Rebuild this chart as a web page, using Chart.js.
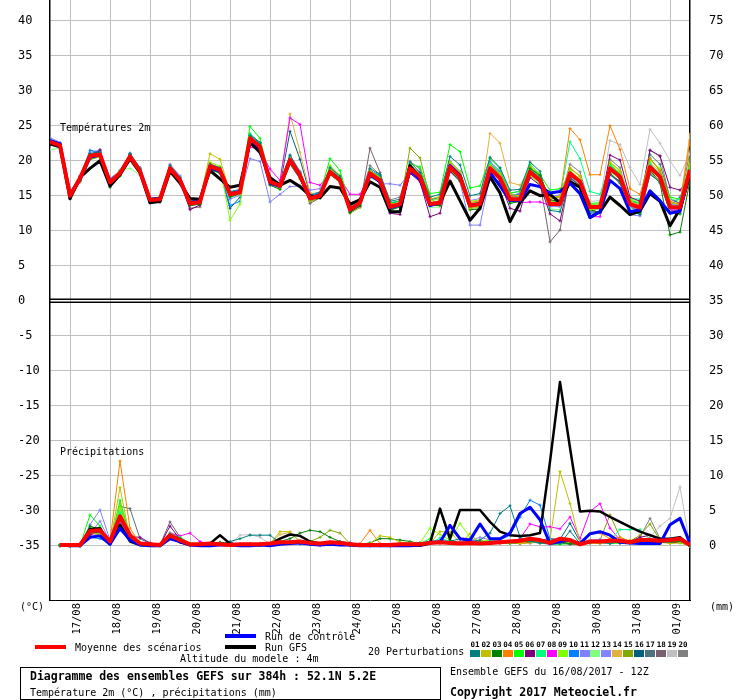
<!DOCTYPE html>
<html>
<head>
<meta charset="utf-8">
<script src="https://cdn.jsdelivr.net/npm/chart.js@4.4.0/dist/chart.umd.min.js"></script>
<style>
body { margin: 0; background: #fff; }
#wrap { position: relative; width: 740px; height: 700px; font-family: "DejaVu Sans Mono", monospace; color: #000; overflow: hidden; }
#wrap canvas { position: absolute; left: 0; top: -6px; }
.t { position: absolute; white-space: pre; font-size: 10px; line-height: 12px; }
.b { font-weight: bold; font-size: 11.5px; }
.sw { position: absolute; }
.num { position: absolute; font-size: 7.5px; font-weight: bold; line-height: 8px; width: 11px; text-align: center; }
#box { position: absolute; left: 20px; top: 667px; width: 419px; height: 31px; border: 1px solid #000; }
</style>
</head>
<body>
<div id="wrap">
  <canvas id="myChart" width="740" height="706"></canvas>
  <div class="t" style="left:60px;top:122px">Températures 2m</div>
  <div class="t" style="left:60px;top:446px">Précipitations</div>
  <div class="t" style="left:20px;top:601px">(°C)</div>
  <div class="t" style="left:710px;top:601px">(mm)</div>
  <div class="sw" style="left:35px;top:645px;width:31px;height:4px;background:#ff0000"></div>
  <div class="t" style="left:75px;top:642px">Moyenne des scénarios</div>
  <div class="sw" style="left:225px;top:634px;width:31px;height:4px;background:#0000ff"></div>
  <div class="t" style="left:265px;top:631px">Run de contrôle</div>
  <div class="sw" style="left:225px;top:645px;width:31px;height:4px;background:#000000"></div>
  <div class="t" style="left:265px;top:642px">Run GFS</div>
  <div class="t" style="left:180px;top:653px">Altitude du modele : 4m</div>
  <div class="t" style="left:368px;top:646px">20 Perturbations</div>
  <div id="swatches"></div>
  <div id="box"></div>
  <div class="t b" style="left:30px;top:670px">Diagramme des ensembles GEFS sur 384h : 52.1N 5.2E</div>
  <div class="t" style="left:30px;top:687px">Température 2m (°C) , précipitations (mm)</div>
  <div class="t" style="left:450px;top:666px">Ensemble GEFS du 16/08/2017 - 12Z</div>
  <div class="t b" style="left:450px;top:686px">Copyright 2017 Meteociel.fr</div>
</div>
<script>
// run starts 16/08 12Z, one value every 6h up to 384h
var dayLabels = ['17/08','18/08','19/08','20/08','21/08','22/08','23/08','24/08',
                 '25/08','26/08','27/08','28/08','29/08','30/08','31/08','01/09'];
var leftTicks = [40,35,30,25,20,15,10,5,0,-5,-10,-15,-20,-25,-30,-35];
var rightTicks = [75,70,65,60,55,50,45,40,35,30,25,20,15,10,5,0];
var pertNames = ['01','02','03','04','05','06','07','08','09','10','11','12','13','14','15','16','17','18','19','20'];
var pertColors = ['#008080','#c0c000','#008000','#ff8000','#00ff00','#800080','#00ff80','#ff00ff','#80ff00','#0080ff',
                  '#8080ff','#80ff80','#8484ff','#e0b040','#80a800','#006080','#507080','#786070','#c0c0c0','#808080'];

// temperature 2m (°C)
var tempMean = [22.7,22.2,15.0,17.5,20.7,20.9,16.9,18.2,20.6,18.5,
  14.4,14.5,18.9,17.2,13.9,14.1,19.2,18.7,15.2,15.5,
  23.2,22.0,17.0,16.4,20.1,17.9,14.6,15.0,18.4,17.2,
  13.0,14.0,18.2,17.2,13.4,13.8,18.9,17.7,13.8,14.0,
  19.1,17.7,13.6,13.8,18.9,17.5,14.5,14.5,18.4,17.2,
  13.8,13.8,18.2,17.0,13.4,13.4,18.9,17.7,13.8,13.3,19.1,17.7,13.4,13.3,18.7];
var tempCtrl = [22.9,22.4,15.2,17.3,20.5,20.8,17.0,18.2,20.6,18.6,
  14.5,14.6,18.9,17.3,14.0,14.3,19.0,18.5,15.3,15.6,
  23.0,21.8,16.8,16.3,20.0,17.8,14.6,15.1,18.4,17.3,
  13.0,14.0,18.0,17.0,13.3,13.7,18.6,17.3,13.6,14.0,
  19.3,17.9,13.6,13.9,18.3,16.4,14.3,14.3,16.6,16.3,
  15.4,15.6,16.8,15.3,11.9,12.7,17.2,16.0,12.7,13.0,15.7,14.3,12.5,12.8,18.6];
var tempGfs = [22.4,22.0,14.6,17.6,18.9,20.0,16.4,18.0,20.3,18.3,
  14.0,14.2,18.5,16.8,14.6,14.5,18.6,17.4,16.2,16.5,
  22.6,21.2,17.6,16.5,17.2,16.3,15.0,14.7,16.3,16.1,
  13.8,14.4,17.0,16.2,12.7,12.7,19.3,17.5,13.8,14.0,
  17.1,14.3,11.5,13.2,17.7,15.4,11.3,14.0,15.7,15.0,
  15.2,14.0,17.0,16.2,11.9,12.7,14.8,13.6,12.3,12.8,15.3,14.2,10.7,13.1,18.0];

var t01 = [22.9,22.3,15.2,17.8,21.0,21.2,17.1,18.4,21.0,18.8,
  14.6,14.8,19.3,17.6,14.2,14.5,19.5,19.0,15.6,15.9,
  23.6,22.5,17.5,16.8,20.8,18.3,15.0,15.3,19.0,17.8,
  13.4,14.5,18.9,18.0,14.2,14.5,19.8,18.3,14.8,15.2,
  20.6,19.4,15.0,15.3,20.5,19.0,15.8,15.9,19.8,18.5,
  12.9,12.7,17.3,16.2,12.5,12.6,18.0,16.8,12.9,12.3,18.1,16.9,12.6,12.4,17.8];
var t02 = [22.5,22.0,15.3,17.0,20.3,20.5,17.2,18.6,20.1,18.0,
  14.2,14.3,18.6,17.0,14.2,14.5,21.0,20.2,15.5,15.2,
  22.8,21.6,16.8,16.2,19.6,17.5,14.2,14.8,18.9,17.8,
  13.3,13.9,18.6,17.5,13.6,13.7,19.5,18.1,14.5,14.9,
  19.8,18.3,13.2,13.5,19.3,18.2,15.2,15.0,17.9,16.8,
  14.8,14.9,19.0,17.8,13.0,13.2,19.8,18.5,14.3,13.6,18.4,17.0,12.8,12.4,19.6];
var t03 = [22.6,22.4,14.8,17.2,20.2,20.6,16.2,17.9,20.3,18.3,
  14.3,14.4,18.5,16.9,13.6,13.8,18.8,18.2,14.8,15.3,
  22.6,21.5,16.5,15.9,19.5,17.4,14.2,14.7,18.0,17.0,
  12.6,13.6,17.8,16.9,12.9,13.4,18.4,17.4,13.6,13.6,
  18.6,17.1,13.0,13.1,18.2,16.8,13.9,14.2,18.9,17.9,
  14.4,14.2,17.6,16.4,13.0,12.6,18.2,17.0,12.8,12.6,18.4,16.8,9.4,9.8,17.2];
var t04 = [22.8,22.1,15.1,17.6,20.9,21.1,16.8,18.0,20.8,18.6,
  14.5,14.7,19.2,17.4,14.0,14.3,19.6,19.0,15.0,15.6,
  23.4,22.3,17.2,16.6,20.4,18.2,14.8,15.2,18.7,17.4,
  13.2,14.2,18.5,17.5,13.8,14.0,19.2,17.9,14.0,14.3,
  19.5,18.0,14.0,14.3,19.2,17.8,14.9,15.0,19.0,17.8,
  14.5,14.8,24.6,23.0,18.0,18.0,25.0,21.6,16.0,15.2,20.3,18.6,14.2,13.8,22.8];
var t05 = [22.4,22.0,15.1,17.3,20.4,20.7,16.6,17.8,20.0,18.4,
  14.6,14.8,19.1,17.5,14.1,14.4,19.0,18.4,15.0,15.8,
  24.9,23.2,17.4,16.3,19.8,17.6,14.3,15.3,20.3,18.6,
  13.6,14.3,18.4,17.8,14.0,14.2,19.6,19.1,15.3,15.5,
  22.3,21.3,16.1,16.4,20.3,18.9,15.4,15.6,19.5,18.0,
  15.8,16.0,18.0,17.2,13.9,14.0,19.6,18.1,14.4,13.9,20.4,18.5,14.8,14.5,19.4];
var t06 = [22.5,22.3,14.6,17.0,20.5,21.5,16.4,18.1,20.9,18.4,
  14.0,14.2,18.7,17.0,13.0,13.7,18.9,18.5,15.0,15.4,
  22.9,21.8,16.6,16.3,20.0,18.0,14.5,14.8,18.2,17.0,
  12.7,13.5,18.0,16.8,12.5,12.3,18.2,17.0,12.0,12.5,
  18.5,17.2,13.4,13.8,18.0,16.9,13.2,12.8,17.6,16.5,
  12.4,11.4,17.8,16.9,13.6,13.4,20.8,20.1,14.8,14.2,21.5,20.7,16.2,15.8,17.5];
var t07 = [22.7,22.2,15.0,17.6,20.6,20.8,17.0,18.3,20.5,18.7,
  14.3,14.6,19.0,17.3,13.8,14.1,19.3,18.5,15.1,15.6,
  23.9,22.4,17.3,16.6,20.3,18.1,14.6,15.1,18.8,17.5,
  13.2,14.1,18.3,17.3,13.5,13.9,19.1,17.9,13.7,13.9,
  19.4,18.0,13.9,14.0,19.6,18.3,14.7,14.9,18.8,17.7,
  14.5,14.8,22.7,20.3,15.6,15.2,19.3,18.2,14.6,14.5,19.6,18.0,13.5,13.6,18.8];
var t08 = [22.6,22.1,15.2,17.4,20.8,21.0,17.0,18.2,20.4,18.3,
  14.4,14.6,18.8,17.3,14.0,14.2,19.0,18.8,15.3,15.8,
  22.0,21.5,18.8,17.2,26.1,25.2,16.9,16.5,18.2,17.5,
  15.2,15.2,18.0,17.0,13.2,13.5,18.6,17.6,13.9,14.1,
  19.0,17.5,13.5,13.6,18.6,17.3,14.6,14.0,14.1,14.1,
  13.6,13.9,17.5,16.4,12.0,12.0,18.0,17.0,13.7,13.4,18.9,17.5,12.9,13.0,18.0];
var t09 = [22.5,22.0,14.9,17.1,20.5,20.9,17.0,18.3,20.8,18.7,
  14.3,14.5,19.0,17.6,14.2,14.5,19.8,19.2,11.5,13.8,
  22.5,21.6,16.8,16.4,20.5,18.0,14.5,14.8,19.3,17.9,
  13.0,14.0,18.6,17.6,13.6,14.0,18.7,17.5,14.2,14.7,
  19.9,18.5,14.2,14.4,19.0,17.8,14.4,14.7,19.1,18.1,
  14.2,14.0,18.6,17.4,13.7,13.9,19.8,18.6,14.6,14.1,20.0,18.9,14.0,13.8,19.0];
var t10 = [23.0,22.5,15.3,17.8,21.5,21.2,17.3,18.5,20.9,18.6,
  14.6,14.5,19.0,17.1,13.9,14.0,19.0,18.4,13.6,14.2,
  23.0,22.0,17.1,16.7,20.4,18.2,15.1,15.4,18.6,17.4,
  13.1,14.3,18.6,17.9,14.0,14.2,19.4,18.2,14.4,14.8,
  19.3,17.6,13.7,13.7,19.3,18.4,15.1,15.2,18.9,17.6,
  14.0,14.1,18.4,17.1,13.2,13.3,19.1,17.8,14.2,13.9,19.1,17.4,13.6,14.8,18.0];
var t11 = [23.3,22.6,15.5,17.8,20.4,21.3,17.5,18.5,20.3,18.0,
  14.1,14.3,18.4,17.4,14.2,14.6,18.6,18.3,14.5,15.1,
  20.3,19.9,14.1,15.2,16.3,16.4,15.8,16.0,18.4,17.6,
  13.5,14.3,18.1,16.7,16.7,16.5,18.2,17.3,13.5,13.9,
  18.4,17.0,10.8,10.8,17.8,16.9,14.9,15.4,18.0,17.5,
  14.9,15.1,18.5,17.1,12.7,12.6,18.1,16.8,12.3,12.1,18.0,17.0,13.0,13.2,19.2];
var t12 = [21.6,21.8,15.1,17.0,20.1,20.6,17.2,18.7,18.9,18.0,
  14.7,14.7,18.5,17.3,14.1,14.3,18.8,18.2,14.8,15.0,
  22.7,21.6,16.7,16.0,19.6,17.6,14.6,15.3,18.1,16.8,
  13.0,13.4,17.6,16.9,12.6,12.9,18.3,17.2,13.3,13.4,
  18.7,17.3,13.0,13.2,18.5,17.2,14.0,14.1,17.8,16.6,
  13.1,13.0,17.9,16.9,13.0,13.1,18.5,17.4,13.2,12.7,18.8,17.5,14.6,14.2,18.2];
var t13 = [22.9,22.4,15.0,17.4,21.2,21.5,16.8,17.9,21.1,18.9,
  14.6,14.7,19.4,17.8,14.3,14.3,19.3,18.7,15.4,15.7,
  23.5,22.2,17.2,16.4,20.6,18.4,14.9,15.2,18.6,17.3,
  13.1,14.0,18.4,17.6,13.5,13.6,19.2,18.4,14.0,14.2,
  19.6,18.3,14.3,14.6,19.9,18.5,15.3,15.7,18.6,17.4,
  13.5,13.4,17.7,16.5,13.0,13.3,19.0,17.5,13.4,13.0,19.4,18.2,13.8,13.6,18.5];
var t14 = [22.4,22.0,15.4,17.7,20.8,21.0,16.7,18.0,20.5,18.6,
  14.5,14.8,19.1,17.5,13.9,14.3,19.4,18.9,15.6,15.4,
  23.1,21.9,17.2,16.8,26.7,21.2,15.4,15.2,18.7,17.5,
  13.6,14.2,18.7,17.5,13.3,13.6,18.8,17.6,13.9,14.2,
  19.5,18.1,14.0,14.1,23.9,22.5,16.9,16.5,18.9,17.6,
  13.4,13.5,18.6,17.2,13.5,13.7,19.4,18.2,14.2,13.6,19.7,18.4,13.8,13.9,23.8];
var t15 = [22.5,22.1,14.8,17.5,20.6,21.2,17.0,18.4,21.0,18.9,
  14.5,14.5,18.9,17.3,14.0,14.2,19.5,18.9,15.0,15.2,
  23.4,22.2,17.0,16.6,20.0,18.1,14.8,15.0,18.5,17.3,
  12.5,13.3,18.4,17.4,13.4,13.7,21.8,20.4,14.7,13.6,
  19.2,17.5,13.2,13.3,19.5,18.0,14.3,14.5,19.2,17.9,
  13.9,14.0,18.9,17.8,13.1,13.0,19.3,18.0,13.7,13.4,19.2,17.8,12.9,12.6,20.4];
var t16 = [22.8,22.4,15.2,17.6,21.0,21.3,17.3,18.6,21.0,19.0,
  14.3,14.3,18.8,17.2,13.7,13.9,19.0,18.3,13.2,14.8,
  23.8,22.6,17.4,16.5,24.2,20.2,15.2,15.5,18.8,17.6,
  13.3,14.0,18.0,16.9,13.0,13.5,19.0,17.9,13.6,13.8,
  19.3,17.9,13.7,13.9,19.2,18.1,15.0,14.9,18.7,17.5,
  14.1,14.2,18.2,16.9,13.0,12.6,18.7,17.3,12.9,12.4,18.6,17.0,12.8,12.9,18.3];
var t17 = [22.7,22.3,14.9,17.4,20.7,20.8,17.0,18.2,20.7,18.6,
  14.4,14.6,19.0,17.3,13.8,14.0,19.0,18.6,15.2,15.6,
  23.4,22.3,17.0,16.2,20.3,18.0,14.6,15.0,18.5,17.2,
  12.8,13.8,18.3,17.5,13.2,13.6,19.3,18.0,13.9,14.2,
  19.0,17.4,13.3,13.5,18.7,17.3,14.3,14.3,18.2,17.0,
  13.6,13.5,18.0,16.8,12.8,12.5,18.4,17.6,13.3,12.9,20.9,19.5,14.6,13.9,18.9];
var t18 = [22.6,22.1,14.5,17.2,20.8,21.6,16.7,18.0,20.4,18.4,
  14.1,14.2,18.5,17.0,13.2,13.4,19.1,18.7,15.0,15.3,
  23.0,22.1,17.2,16.6,20.5,18.2,13.9,14.7,18.5,17.0,
  12.6,13.6,21.8,18.3,13.8,14.3,19.1,18.2,14.5,14.7,
  18.8,17.4,13.7,13.9,18.7,17.5,14.3,14.2,18.0,16.9,
  8.4,10.1,18.0,17.1,13.8,13.6,18.9,17.3,13.5,13.0,18.6,17.6,14.0,13.7,19.1];
var t19 = [22.8,22.3,15.1,17.5,20.9,21.0,17.0,18.4,20.8,18.5,
  14.6,14.6,19.0,17.4,14.0,14.2,19.2,18.8,15.3,15.5,
  23.3,22.1,17.1,16.5,20.1,17.9,14.7,15.1,18.6,17.3,
  13.2,14.1,18.6,17.6,13.7,14.0,18.8,17.5,13.8,14.3,
  19.1,17.7,13.9,14.1,19.0,17.6,14.8,14.8,18.5,17.3,
  14.2,14.3,18.0,16.9,14.2,14.3,22.9,22.3,19.0,16.6,24.5,22.5,20.0,17.9,21.0];
var t20 = [22.9,22.4,15.3,17.5,20.6,20.9,17.1,18.5,20.9,18.9,
  14.0,14.0,19.5,17.8,13.6,13.8,19.4,18.8,15.1,15.4,
  23.7,22.6,17.5,16.8,20.8,18.5,14.4,15.0,19.2,17.8,
  13.8,14.6,19.3,18.0,14.4,14.8,19.9,18.8,14.6,14.5,
  19.9,18.5,14.0,14.0,19.8,18.3,14.9,14.8,18.7,17.4,
  14.2,14.4,19.5,18.4,13.5,13.6,20.2,19.0,14.0,13.6,21.5,20.6,14.5,13.9,21.4];

// precipitation (mm / 6h), no value at 0h
var precMean = [null,0.1,0.1,0.1,2.1,2.2,0.6,4.2,1.5,0.3,
  0.2,0.1,1.5,0.8,0.2,0.2,0.3,0.2,0.1,0.2,
  0.2,0.2,0.3,0.5,0.5,0.6,0.4,0.3,0.5,0.4,
  0.2,0.1,0.1,0.1,0.1,0.2,0.2,0.2,0.4,0.5,
  0.4,0.3,0.4,0.3,0.4,0.5,0.6,0.7,1.0,0.8,
  0.4,1.0,0.8,0.2,0.6,0.6,0.7,0.7,0.5,0.8,0.8,0.7,0.8,1.0,0.1];
var precCtrl = [null,0.1,0,0,1.2,1.4,0.2,2.5,0.8,0.1,
  0,0,1.0,0.6,0.1,0,0,0.1,0.1,0,
  0,0.1,0,0.2,0.3,0.4,0.2,0.1,0.2,0.1,
  0.1,0,0,0,0,0,0,0.1,0.5,0.5,
  2.9,1.0,0.8,3.1,1.0,1.0,1.8,4.6,5.5,3.7,
  0.3,0.6,0.8,0.3,1.7,2.0,1.5,0.5,0.4,0.3,0.3,0.3,3.0,3.9,0.3];
var precGfs = [null,0.2,0,0,2.4,2.5,0.3,3.0,0.6,0.1,
  0.1,0,1.4,0.5,0.1,0.2,0.3,1.5,0.3,0.1,
  0.1,0.1,0.2,1.0,1.6,1.4,0.6,0.3,0.3,0.2,
  0.1,0,0,0,0,0,0,0,0.3,5.3,
  1.0,5.1,5.1,5.1,3.4,2.0,1.5,1.4,1.5,1.8,
  12.0,23.4,14.0,4.9,5.0,4.9,4.1,3.4,2.7,2.0,1.5,1.0,1.0,1.2,0];

var p01 = [null,0.1,0,0,1.8,2.0,0.4,3.8,1.2,0.2,
  0.1,0.1,1.3,0.6,0.1,0.2,0.3,0.2,0.6,1.0,
  1.5,1.5,1.5,0.4,0.5,0.3,0.2,0.1,0.3,0.2,
  0.1,0.1,0,0.1,0,0.2,0.2,0.3,0.4,0.5,
  0.6,1.0,0.6,0.8,1.8,4.6,5.7,1.2,0.6,0.4,
  0.2,0.3,2.1,0.3,0.4,0.5,0.3,0.6,0.4,0.3,0.5,0.4,0.6,0.8,0];
var p02 = [null,0.1,0,0,1.9,1.6,0.3,8.3,1.0,0.2,
  0.1,0,1.2,0.7,0.2,0.1,0.2,0.3,0.2,0.1,
  0.2,0.2,0.3,2.0,2.0,0.6,0.3,0.2,0.4,0.3,
  0.1,0.2,0.3,1.4,1.2,0.5,0.4,0.2,0.3,2.0,
  2.0,0.4,1.7,0.3,0.2,0.4,0.5,0.3,0.4,0.6,
  0.8,10.6,6.0,0.5,0.4,0.3,0.5,0.6,0.8,0.4,0.6,0.5,0.3,0.4,0];
var p03 = [null,0,0,0,2.8,2.3,0.3,4.2,1.4,0.4,
  0.2,0.1,1.6,1.0,0.2,0.1,0.2,0.5,0.3,0.2,
  0.3,0.3,0.2,0.6,1.0,1.8,2.2,2.0,1.2,0.6,
  0.3,0.2,0.4,1.0,1.0,0.8,0.6,0.3,0.5,5.1,
  0.8,0.3,0.6,0.4,0.5,0.5,0.6,0.7,0.6,0.5,
  0.4,0.5,0.3,0.2,0.6,0.6,0.5,0.4,0.6,0.5,0.8,0.6,0.5,0.6,0];
var p04 = [null,0,0,0,2.2,2.4,0.6,12.1,2.5,0.3,
  0.2,0.1,1.4,0.8,0.2,0.1,0.2,0.3,0.2,0.1,
  0.2,0.1,0.2,0.4,0.5,0.6,0.3,0.2,0.4,0.3,
  0.1,0.3,2.2,0.3,0.2,0.1,0.2,0.1,0.3,0.4,
  0.5,0.3,0.2,0.4,0.3,0.5,0.6,0.4,0.6,0.7,
  0.5,0.4,0.6,0.3,1.7,1.8,1.0,1.2,0.6,0.5,0.4,0.6,0.5,0.7,0];
var p05 = [null,0.1,0,0,4.4,2.8,0.3,6.5,1.2,0.2,
  0.1,0,1.2,1.0,0.2,0.1,0.2,0.3,0.2,0.1,
  0.2,0.2,0.3,0.4,0.3,0.4,0.3,0.2,0.3,0.2,
  0.1,0.1,0.2,0.1,0.1,0.2,0.2,0.3,1.0,5.1,
  0.5,0.4,0.3,0.6,0.5,0.4,0.3,0.5,0.6,0.4,
  0.3,0.2,0.3,0.2,0.4,0.6,0.3,0.4,0.5,0.4,0.6,0.5,0.8,0.5,0];
var p06 = [null,0,0,0,1.6,2.0,0.4,2.6,1.3,1.2,
  0.4,0.1,2.8,0.9,0.3,0.2,0.3,0.2,0.1,0.1,
  0.2,0.1,0.2,0.4,0.3,0.3,0.2,0.1,0.3,0.6,
  0.4,0.2,0.1,0.1,0,0.1,0.1,0.2,0.3,0.4,
  0.5,0.3,0.4,0.6,0.3,0.5,0.4,0.3,0.5,0.4,
  0.3,0.4,0.2,0.3,0.5,0.4,0.4,0.6,0.5,1.2,1.5,0.6,0.4,0.5,0];
var p07 = [null,0.1,0,0,2.4,2.0,0.4,4.8,1.1,0.2,
  0.1,0,1.7,1.2,0.3,0.2,0.3,0.4,0.2,0.1,
  0.1,0.2,0.2,0.5,0.6,0.5,0.2,0.2,0.3,0.2,
  0.1,0.1,0.1,0,0.1,0.1,0.2,0.4,0.3,1.1,
  0.6,0.4,0.5,0.3,0.7,0.5,0.4,0.6,0.8,0.6,
  0.5,0.4,0.3,0.2,0.5,0.6,0.8,2.3,2.3,2.3,1.0,0.6,0.5,0.4,0];
var p08 = [null,0.1,0,0,1.5,2.2,0.5,3.6,1.0,0.2,
  0.1,0,1.8,1.4,1.8,0.6,0.2,0.3,0.4,0.2,
  0.1,0.2,0.3,0.4,0.5,0.4,0.3,0.2,0.4,0.3,
  0.2,0.1,0,0.1,0,0.1,0.2,0.3,0.4,0.5,
  0.4,0.6,0.8,0.5,0.6,0.7,0.5,1.0,3.1,2.7,
  2.7,2.4,4.1,1.0,4.9,6.0,2.5,0.8,0.6,0.4,0.5,0.6,0.7,0.6,0];
var p09 = [null,0,0,0,2.0,1.8,0.3,5.4,1.3,0.3,
  0.1,0.1,1.3,0.9,0.2,0.2,0.2,0.4,0.3,0.2,
  0.2,0.1,0.3,0.5,0.4,0.7,0.4,0.3,0.5,0.3,
  0.1,0.1,0,0.1,0.1,0.2,0.3,0.4,2.5,1.6,
  0.8,3.2,1.2,0.6,0.8,0.5,0.6,0.4,0.5,0.4,
  0.6,0.5,0.4,0.3,0.6,0.5,0.4,0.6,0.3,0.5,0.4,0.6,0.4,0.5,0];
var p10 = [null,0,0,0,1.2,1.0,0.3,2.2,0.8,0.2,
  0.1,0,1.0,0.5,0.1,0.1,0.2,0.2,0.1,0.1,
  0.2,0.1,0.2,0.3,0.4,0.3,0.2,0.1,0.2,0.2,
  0.1,0,0.1,0,0.1,0.1,0.2,0.3,0.4,0.6,
  0.5,0.4,0.6,0.5,0.4,0.8,1.5,4.1,6.5,5.8,
  1.0,0.6,0.5,0.3,0.6,0.7,0.5,0.4,0.5,0.6,0.4,0.5,0.6,0.7,0];
var p11 = [null,0.1,0,0,3.0,5.1,0.8,3.4,1.0,0.3,
  0.2,0.1,1.1,0.8,0.2,0.1,0.3,0.2,0.2,0.1,
  0.2,0.2,0.3,0.4,0.5,0.3,0.3,0.2,0.3,0.2,
  0.1,0.1,0.1,0.1,0.2,0.3,0.2,0.4,0.5,0.6,
  0.4,0.5,0.6,0.4,0.5,0.6,0.7,0.5,0.8,0.6,
  0.4,0.6,0.5,0.3,0.6,0.5,0.6,0.4,0.5,0.7,0.9,0.6,0.5,0.6,0];
var p12 = [null,0,0,0,2.5,2.6,0.5,5.0,1.6,0.2,
  0.1,0.1,1.9,1.3,0.3,0.2,0.3,0.3,0.2,0.1,
  0.2,0.2,0.2,0.3,0.4,0.5,0.3,0.2,0.3,0.2,
  0.1,0.1,0.1,0.1,0,0.1,0.2,0.2,0.4,0.5,
  0.3,0.5,0.4,0.6,0.5,0.3,0.6,0.4,0.5,0.7,
  0.6,0.5,0.4,0.2,0.6,0.5,0.7,0.6,0.4,0.5,0.6,0.4,0.5,0.6,0];
var p13 = [null,0.1,0,0,1.7,3.5,0.6,4.0,1.4,0.2,
  0.1,0,1.5,1.0,0.2,0.2,0.3,0.2,0.1,0.2,
  0.2,0.3,0.2,0.4,0.6,0.4,0.3,0.2,0.4,0.3,
  0.1,0.1,0.1,0.1,0,0.1,0.2,0.2,0.6,0.8,
  0.6,0.5,0.7,1.2,0.8,0.6,0.5,0.7,0.4,0.5,
  0.6,0.4,0.5,0.3,0.8,0.9,0.6,0.5,0.6,0.4,0.7,0.5,0.6,0.5,0];
var p14 = [null,0,0,0,2.2,2.0,0.4,6.0,1.8,0.3,
  0.1,0,1.3,0.9,0.2,0.1,0.3,0.2,0.2,0.1,
  0.1,0.2,0.3,1.6,1.9,0.5,0.3,0.2,0.5,0.3,
  0.2,0.1,0.1,0.2,0.1,0.2,0.2,0.3,0.4,0.6,
  0.5,0.4,0.3,0.8,0.5,0.6,0.4,0.7,0.5,0.6,
  0.8,0.4,0.5,0.3,0.5,0.9,0.6,0.4,0.5,0.6,0.5,0.4,0.6,0.5,0];
var p15 = [null,0,0,0,1.9,2.1,0.3,4.5,1.0,0.2,
  0.1,0.1,1.2,0.7,0.2,0.1,0.2,0.3,0.2,0.2,
  0.1,0.2,0.2,0.3,0.4,0.5,0.6,1.2,2.2,1.8,
  0.3,0.2,0.1,0.1,0.1,0.1,0.2,0.3,0.4,0.5,
  0.6,0.3,0.4,0.5,0.6,0.4,0.5,0.3,0.6,0.5,
  0.7,0.5,0.4,0.3,0.6,0.8,4.4,1.2,0.6,1.5,3.1,0.8,0.5,0.6,0];
var p16 = [null,0.1,0,0,2.0,1.8,0.3,5.0,1.4,0.3,
  0.1,0,1.4,0.8,0.2,0.1,0.2,0.3,0.2,0.1,
  0.2,0.1,0.2,0.3,0.4,0.3,0.2,0.2,0.3,0.2,
  0.1,0.1,0.1,0.1,0.1,0.2,0.3,0.4,0.5,0.7,
  0.6,0.4,0.5,0.4,0.6,0.5,0.4,0.6,0.5,0.8,
  1.0,0.9,3.2,0.6,0.5,0.4,0.6,0.5,0.4,0.6,0.7,0.5,0.6,0.8,0];
var p17 = [null,0,0,0,2.3,2.2,0.3,5.6,5.3,1.0,
  0.3,0.1,1.2,0.9,0.2,0.1,0.2,0.3,0.2,0.2,
  0.1,0.2,0.2,0.3,0.4,0.4,0.3,0.2,0.3,0.2,
  0.1,0.1,0.1,0,0.1,0.2,0.2,0.3,0.3,0.4,
  0.5,0.4,0.6,0.5,0.3,0.6,0.5,0.4,0.7,0.5,
  0.4,0.6,0.5,0.3,0.5,0.6,0.4,0.5,0.6,0.4,0.8,0.7,0.5,0.6,0];
var p18 = [null,0,0,0,1.8,1.6,0.2,3.0,1.0,0.2,
  0.1,0.1,3.4,1.2,0.2,0.1,0.4,0.3,0.2,0.1,
  0.2,0.1,0.2,0.4,0.3,0.3,0.2,0.2,0.3,0.2,
  0.1,0.1,0,0.1,0.1,0.1,0.2,0.3,0.4,0.5,
  0.4,0.5,0.6,0.4,0.5,0.3,0.6,0.5,0.4,0.6,
  0.5,0.4,0.6,0.3,0.5,0.4,0.6,0.5,0.7,0.6,0.8,0.5,0.6,0.7,0];
var p19 = [null,0,0,0,1.5,1.7,0.3,3.8,1.1,0.2,
  0.1,0,1.0,0.7,0.2,0.2,0.3,0.2,0.2,1.5,
  1.6,1.2,0.3,0.2,0.3,0.4,0.2,0.1,0.2,0.1,
  0.1,0,0.1,0,0.1,0.1,0.2,0.2,0.3,0.4,
  0.4,0.3,0.5,0.4,0.6,0.5,0.4,0.6,0.5,0.4,
  0.6,0.7,0.5,0.3,0.4,0.6,0.5,0.4,0.6,0.9,1.2,2.8,3.9,8.4,0];
var p20 = [null,0.1,0,0,2.1,1.9,0.4,5.6,1.3,0.3,
  0.1,0.1,1.6,0.8,0.2,0.2,0.3,0.2,0.2,0.1,
  0.2,0.2,0.3,0.4,0.5,0.4,0.3,0.2,0.4,0.3,
  0.1,0.1,0.1,0.1,0,0.1,0.2,0.3,0.4,0.5,
  0.6,0.4,0.5,0.6,0.5,0.4,0.6,0.5,0.7,0.6,
  0.5,0.4,0.6,0.3,0.5,0.6,0.4,0.5,0.7,1.2,3.9,1.0,0.6,0.5,0];

var tempPert = [t01,t02,t03,t04,t05,t06,t07,t08,t09,t10,t11,t12,t13,t14,t15,t16,t17,t18,t19,t20];
var precPert = [p01,p02,p03,p04,p05,p06,p07,p08,p09,p10,p11,p12,p13,p14,p15,p16,p17,p18,p19,p20];

// forecast hours for the x axis (0h .. 384h)
var hours = [];
for (var h = 0; h <= 384; h += 6) hours.push(h);

// left scale: 7px per unit, 0 at the divider; right scale = left + 35
var yMin = -42.76, yMax = 42.96;

// legend swatches for the 20 members
var sw = document.getElementById('swatches');
pertNames.forEach(function (n, i) {
    var x = 470 + i * 10.95;
    var d = document.createElement('div');
    d.className = 'sw';
    d.style.cssText = 'left:' + x + 'px;top:650px;width:10px;height:7px;background:' + pertColors[i];
    sw.appendChild(d);
    var t = document.createElement('div');
    t.className = 'num';
    t.style.cssText = 'left:' + (x - 0.5) + 'px;top:641px';
    t.textContent = n;
    sw.appendChild(t);
});

var datasets = [];
function line(data, color, width, axis, order, pts) {
    return {data: data, borderColor: color, backgroundColor: color, borderWidth: width,
            yAxisID: axis, order: order, fill: false, tension: 0,
            pointRadius: pts ? 1.5 : 0, pointStyle: 'cross', pointBorderWidth: 1,
            borderJoinStyle: 'round'};
}
datasets.push(line(tempMean, '#ff0000', 4, 'y', 0));
datasets.push(line(precMean, '#ff0000', 4, 'yp', 0));
datasets.push(line(tempCtrl, '#0000ff', 3, 'y', 1));
datasets.push(line(precCtrl, '#0000ff', 3, 'yp', 1));
datasets.push(line(tempGfs, '#000000', 3, 'y', 2));
datasets.push(line(precGfs, '#000000', 2.5, 'yp', 2));
for (var i = 0; i < 20; i++) {
    datasets.push(line(tempPert[i], pertColors[i], 1, 'y', 3 + i, true));
    datasets.push(line(precPert[i], pertColors[i], 1, 'yp', 3 + i, true));
}

// double line between the two panels
var dividerPlugin = {
    id: 'divider',
    beforeDatasetsDraw: function (chart) {
        var c = chart.ctx, a = chart.chartArea;
        var y0 = Math.round(chart.scales.y.getPixelForValue(0));
        c.save();
        c.strokeStyle = '#000';
        c.lineWidth = 1.5;
        c.beginPath();
        c.moveTo(a.left, y0 - 1.75); c.lineTo(a.right, y0 - 1.75);
        c.moveTo(a.left, y0 + 1.25); c.lineTo(a.right, y0 + 1.25);
        c.stroke();
        c.restore();
    }
};

var tickFont = {family: 'DejaVu Sans Mono', size: 12, lineHeight: 1};
var ctx = document.getElementById('myChart').getContext('2d');
var myChart = new Chart(ctx, {
    type: 'line',
    data: {labels: hours, datasets: datasets},
    plugins: [dividerPlugin],
    options: {
        responsive: false, animation: false, devicePixelRatio: 1,
        layout: {padding: {left: 18, right: 0, top: 0, bottom: 0}},
        plugins: {legend: {display: false}, tooltip: {enabled: false}},
        scales: {
            x: {
                type: 'linear', min: 0, max: 384, position: 'bottom',
                afterBuildTicks: function (s) {
                    s.ticks = dayLabels.map(function (l, i) { return {value: 12 + 24 * i}; });
                },
                afterFit: function (s) { s.height = 100; },
                grid: {color: '#c0c0c0', lineWidth: 1, drawTicks: false},
                border: {color: '#000', width: 1},
                ticks: {
                    autoSkip: false, minRotation: 90, maxRotation: 90, padding: 3, labelOffset: 7,
                    color: '#000', font: {family: 'DejaVu Sans Mono', size: 10.5},
                    callback: function (v) { return dayLabels[(v - 12) / 24]; }
                }
            },
            y: {
                type: 'linear', position: 'left', min: yMin, max: yMax,
                afterBuildTicks: function (s) {
                    s.ticks = leftTicks.map(function (v) { return {value: v}; });
                },
                afterFit: function (s) { s.width = 32; },
                grid: {
                    drawTicks: false, lineWidth: 1,
                    color: function (c) { return c.tick && c.tick.value === 0 ? 'rgba(0,0,0,0)' : '#c0c0c0'; }
                },
                border: {color: '#000', width: 1.5},
                ticks: {autoSkip: false, crossAlign: 'far', padding: 0, color: '#000', font: tickFont,
                        callback: function (v) { return String(v); }}
            },
            yp: {
                type: 'linear', position: 'right', min: yMin + 35, max: yMax + 35,
                afterBuildTicks: function (s) {
                    s.ticks = rightTicks.map(function (v) { return {value: v}; });
                },
                afterFit: function (s) { s.width = 50; },
                grid: {display: true, drawOnChartArea: false, drawTicks: true, tickLength: 19,
                       tickColor: 'rgba(0,0,0,0)'},
                border: {display: true, color: '#000', width: 1.5},
                ticks: {autoSkip: false, padding: 0, color: '#000', font: tickFont,
                        callback: function (v) { return String(v); }}
            }
        }
    }
});
</script>
</body>
</html>
